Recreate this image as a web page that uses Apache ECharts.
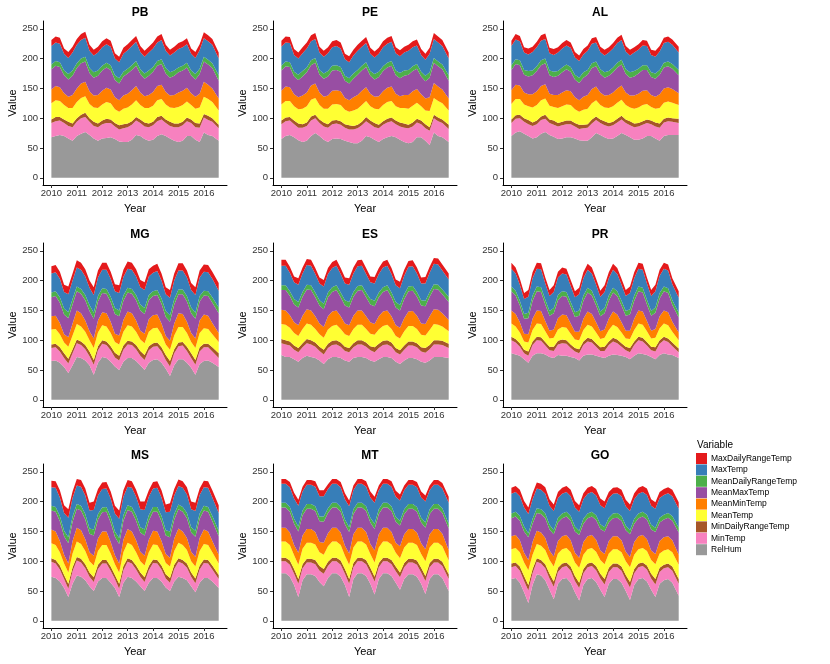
<!DOCTYPE html>
<html>
<head>
<meta charset="utf-8">
<script src="https://cdn.jsdelivr.net/npm/echarts@6/dist/echarts.min.js"></script>
<style>html,body{margin:0;padding:0;background:#fff}#main{width:830px;height:664px}</style>
</head>
<body>
<div id="main"></div>
<script>
// sample dates (bi-monthly), tick labels
var months = ['2010-01','2010-03','2010-05','2010-07','2010-09','2010-11',
  '2011-01','2011-03','2011-05','2011-07','2011-09','2011-11',
  '2012-01','2012-03','2012-05','2012-07','2012-09','2012-11',
  '2013-01','2013-03','2013-05','2013-07','2013-09','2013-11',
  '2014-01','2014-03','2014-05','2014-07','2014-09','2014-11',
  '2015-01','2015-03','2015-05','2015-07','2015-09','2015-11',
  '2016-01','2016-03','2016-05','2016-08'];
var yearTicks = [2010, 2011, 2012, 2013, 2014, 2015, 2016];
var valueTicks = [0, 50, 100, 150, 200, 250];

// legend order (top of stack first)
var variables = ['MaxDailyRangeTemp','MaxTemp','MeanDailyRangeTemp','MeanMaxTemp','MeanMinTemp','MeanTemp','MinDailyRangeTemp','MinTemp','RelHum'];
var colors = {
  MaxDailyRangeTemp:'#E41A1C', MaxTemp:'#377EB8', MeanDailyRangeTemp:'#4DAF4A', MeanMaxTemp:'#984EA3',
  MeanMinTemp:'#FF7F00', MeanTemp:'#FFFF33', MinDailyRangeTemp:'#A65628', MinTemp:'#F781BF', RelHum:'#999999'
};

var PB = {
  RelHum:             [68,70,72,70,66,62, 70,74,77,72,66,62, 66,67,68,65,61,60, 60,64,72,70,65,62, 64,70,73,70,66,62, 60,62,70,70,64,60, 76,72,70,62],
  MinTemp:            [24,25,24,22,21,23, 24,26,25,22,21,23, 24,25,24,21,20,23, 25,25,24,22,21,23, 24,25,25,22,21,23, 25,26,25,22,21,24, 25,25,24,21],
  MinDailyRangeTemp:  [6,7,6,6,7,6, 6,6,7,6,7,6, 6,7,6,6,7,7, 6,6,6,6,7,6, 6,7,6,6,7,6, 6,6,6,6,7,7, 6,7,6,6],
  MeanTemp:           [27,28,27,24,23,26, 27,28,28,24,24,26, 27,28,27,23,23,26, 27,28,28,24,24,26, 27,28,28,25,24,26, 28,28,27,24,24,27, 29,28,27,24],
  MeanMinTemp:        [23,24,23,20,19,22, 23,24,24,21,20,22, 23,24,23,20,19,22, 23,24,24,21,20,22, 23,24,24,21,20,22, 24,24,23,20,20,23, 25,24,23,20],
  MeanMaxTemp:        [34,34,34,30,29,32, 34,34,34,31,30,32, 34,34,33,29,28,32, 34,34,34,31,29,32, 34,34,35,31,30,32, 34,34,34,30,29,33, 34,34,34,30],
  MeanDailyRangeTemp: [8,8,8,8,9,9, 8,8,8,8,9,9, 8,8,8,8,9,8, 8,8,8,8,9,9, 8,8,8,9,9,9, 8,8,8,8,9,9, 8,8,8,9],
  MaxTemp:            [31,31,31,28,27,30, 31,31,32,29,28,30, 31,31,31,28,27,30, 31,32,32,29,28,30, 31,31,32,29,28,30, 31,31,31,28,27,31, 31,31,31,28],
  MaxDailyRangeTemp:  [10,10,10,9,10,10, 10,10,10,10,10,10, 10,10,10,9,9,10, 10,10,10,10,10,10, 10,10,10,10,10,10, 10,10,10,9,10,10, 10,10,10,10]
};
var PE = {
  RelHum:             [65,70,72,68,63,60, 62,70,75,70,64,60, 65,66,65,62,60,58, 58,62,70,68,64,60, 65,68,70,68,64,60, 58,60,68,68,62,55, 76,70,68,60],
  MinTemp:            [25,25,24,22,21,24, 25,26,25,22,22,24, 25,25,24,22,21,23, 25,26,25,22,21,23, 24,25,25,22,22,24, 25,26,25,22,21,24, 24,25,24,22],
  MinDailyRangeTemp:  [6,6,6,6,7,6, 6,7,6,6,7,6, 6,6,6,6,7,6, 6,6,7,6,7,6, 6,6,6,6,7,7, 6,7,6,6,7,6, 6,6,6,7],
  MeanTemp:           [27,28,27,24,24,26, 27,28,28,24,23,26, 27,27,27,24,23,26, 27,28,27,24,24,26, 27,28,28,24,24,26, 27,28,27,24,23,27, 28,28,27,24],
  MeanMinTemp:        [23,24,23,20,20,22, 23,24,24,21,20,22, 23,23,23,20,19,22, 23,24,23,21,20,22, 23,24,24,21,20,22, 23,24,23,20,20,23, 25,24,23,20],
  MeanMaxTemp:        [34,34,34,30,29,32, 34,34,35,30,30,32, 34,34,33,29,28,31, 34,34,34,30,29,32, 34,34,35,31,30,32, 34,34,34,30,29,33, 34,34,34,30],
  MeanDailyRangeTemp: [8,8,8,8,9,9, 8,8,8,8,9,9, 8,8,8,8,9,9, 8,8,8,8,9,9, 8,8,8,8,9,9, 8,8,8,8,9,9, 8,8,8,9],
  MaxTemp:            [32,32,32,28,27,30, 32,32,32,29,28,30, 31,32,31,28,27,30, 32,32,32,29,28,30, 32,32,32,29,28,30, 32,32,31,28,27,31, 32,32,31,28],
  MaxDailyRangeTemp:  [10,10,10,10,10,10, 10,10,10,10,10,10, 10,10,10,9,10,10, 10,10,10,10,10,10, 10,10,10,10,10,10, 10,10,10,10,10,10, 10,10,10,10]
};
var AL = {
  RelHum:             [70,76,78,74,70,66, 68,74,77,72,69,65, 66,68,68,66,63,62, 62,68,75,72,68,65, 66,70,75,72,68,64, 64,66,70,70,66,62, 70,72,72,72],
  MinTemp:            [22,23,22,20,20,21, 22,23,22,20,20,21, 22,22,22,20,19,21, 22,23,22,20,20,21, 22,23,23,20,20,21, 22,23,22,20,20,22, 23,23,22,20],
  MinDailyRangeTemp:  [6,6,6,6,7,6, 6,6,7,6,7,6, 6,6,6,6,7,6, 6,7,6,6,7,6, 6,6,6,6,7,6, 6,6,6,6,7,7, 6,6,6,7],
  MeanTemp:           [26,27,26,23,23,25, 26,27,27,23,23,25, 26,27,26,23,22,25, 26,27,27,24,23,25, 26,27,27,24,23,25, 26,27,26,23,23,26, 27,27,26,23],
  MeanMinTemp:        [23,24,23,20,20,22, 23,24,24,20,20,22, 23,24,23,20,19,22, 23,24,23,21,20,22, 23,24,24,21,20,22, 23,24,23,20,20,23, 24,24,23,20],
  MeanMaxTemp:        [34,35,34,30,30,32, 34,35,35,31,30,32, 34,35,33,30,29,32, 34,35,34,31,30,32, 34,35,35,31,30,32, 34,35,34,30,30,33, 35,35,34,30],
  MeanDailyRangeTemp: [8,8,8,8,9,8, 8,8,8,8,9,8, 8,8,8,8,9,9, 8,8,8,8,9,8, 8,8,8,8,9,9, 8,8,8,8,9,8, 8,8,8,9],
  MaxTemp:            [32,33,32,29,28,31, 32,33,33,29,28,31, 32,32,32,29,28,30, 32,33,32,29,28,31, 32,33,33,30,28,31, 32,33,32,29,28,31, 33,33,32,29],
  MaxDailyRangeTemp:  [9,9,9,9,10,9, 9,9,9,9,10,9, 9,9,9,9,9,9, 9,9,9,9,10,9, 9,9,9,9,10,9, 9,9,9,9,10,9, 9,9,9,10]
};
var MG = {
  RelHum:             [65,66,62,55,45,58, 72,70,66,58,42,62, 72,70,64,56,50,64, 70,70,65,58,50,62, 67,68,62,52,40,58, 68,68,62,54,42,60, 65,66,62,55],
  MinTemp:            [22,22,19,15,16,20, 23,22,19,15,17,21, 22,22,19,15,16,20, 23,22,20,16,17,21, 22,22,19,15,16,20, 22,23,20,16,17,21, 23,22,19,15],
  MinDailyRangeTemp:  [6,6,7,8,8,7, 6,6,7,8,8,7, 6,6,7,8,8,7, 6,6,7,8,8,7, 6,6,7,8,9,7, 6,6,7,8,8,7, 6,6,7,8],
  MeanTemp:           [25,25,22,18,20,23, 26,25,22,19,20,23, 25,25,22,18,19,23, 26,25,22,19,20,24, 25,25,22,18,19,23, 26,25,23,19,20,24, 26,25,22,19],
  MeanMinTemp:        [22,22,19,14,16,20, 23,22,19,15,16,20, 22,22,19,14,15,20, 23,22,19,15,16,21, 22,22,18,14,15,20, 23,22,19,15,16,21, 23,22,19,15],
  MeanMaxTemp:        [32,33,34,33,32,32, 32,33,34,34,33,32, 32,33,33,33,32,32, 32,33,34,34,33,32, 32,33,33,32,32,32, 32,33,34,33,33,32, 32,33,34,33],
  MeanDailyRangeTemp: [8,8,9,10,10,9, 8,8,9,10,10,9, 8,8,9,10,10,9, 8,8,9,10,10,9, 8,8,9,10,11,9, 8,8,9,10,10,9, 8,8,9,10],
  MaxTemp:            [32,32,31,28,30,31, 32,32,31,29,30,31, 31,32,30,28,29,31, 32,32,31,29,30,31, 31,32,30,28,29,31, 32,32,31,29,30,31, 32,32,31,28],
  MaxDailyRangeTemp:  [12,12,12,12,13,12, 12,12,12,12,13,12, 12,12,12,12,13,12, 12,12,12,12,13,12, 12,12,12,12,13,12, 12,12,12,12,13,12, 12,12,12,13]
};
var ES = {
  RelHum:             [75,72,72,68,64,70, 74,72,70,66,60,68, 72,72,70,66,64,70, 72,72,70,66,64,68, 72,72,70,64,60,66, 70,70,68,64,62,66, 72,72,72,70],
  MinTemp:            [20,21,19,16,16,18, 21,21,19,16,16,19, 20,21,19,16,16,18, 21,21,19,17,16,19, 20,21,19,16,16,18, 21,21,20,17,17,19, 21,21,20,17],
  MinDailyRangeTemp:  [7,7,7,7,7,7, 7,7,7,7,8,7, 7,7,7,7,7,7, 7,7,7,7,8,7, 7,7,7,7,7,7, 7,7,7,7,8,7, 7,7,7,7],
  MeanTemp:           [25,26,23,21,20,24, 26,26,23,21,20,24, 25,26,23,21,20,24, 26,26,23,21,21,24, 25,26,23,20,20,24, 26,26,24,21,21,25, 27,26,24,21],
  MeanMinTemp:        [24,24,21,18,18,22, 24,24,21,18,18,22, 24,24,21,18,18,22, 24,24,21,19,18,22, 24,24,21,18,18,22, 24,25,22,19,19,23, 25,25,22,19],
  MeanMaxTemp:        [33,34,32,30,30,32, 33,34,32,30,30,32, 33,34,32,30,30,32, 33,34,32,30,30,32, 33,34,32,30,29,32, 34,34,32,30,30,33, 34,34,32,30],
  MeanDailyRangeTemp: [8,8,8,9,9,8, 8,8,8,9,9,8, 8,8,8,9,9,8, 8,8,8,9,9,8, 8,8,8,9,9,8, 8,8,8,9,9,8, 8,8,8,9],
  MaxTemp:            [33,33,31,28,29,31, 33,33,31,28,29,31, 32,33,31,28,29,31, 33,33,31,28,29,31, 33,33,31,28,28,31, 33,33,31,28,29,32, 34,34,32,29],
  MaxDailyRangeTemp:  [10,10,10,10,11,10, 10,10,10,10,11,10, 10,10,10,10,11,10, 10,10,10,10,11,10, 10,10,10,10,11,10, 10,10,10,10,11,10, 10,10,10,10]
};
var PR = {
  RelHum:             [78,76,74,68,62,74, 78,78,76,72,70,75, 74,74,72,70,66,74, 76,76,74,72,70,74, 76,75,74,72,68,74, 78,77,75,72,68,75, 78,76,75,70],
  MinTemp:            [22,20,15,10,12,18, 22,21,15,11,12,18, 21,20,15,11,12,18, 22,20,15,10,12,18, 22,20,15,11,12,18, 22,21,16,11,13,19, 22,21,15,10],
  MinDailyRangeTemp:  [6,6,6,6,7,6, 6,6,6,6,7,6, 6,6,6,6,7,6, 6,6,6,6,7,6, 6,6,6,6,7,6, 6,6,6,6,7,6, 6,6,6,6],
  MeanTemp:           [22,21,18,14,15,19, 22,22,18,14,15,19, 21,21,18,14,15,19, 22,21,18,14,15,19, 22,21,18,14,15,19, 22,22,18,14,16,20, 22,22,18,14],
  MeanMinTemp:        [22,21,17,13,14,19, 22,22,17,13,14,19, 21,21,17,13,14,19, 22,21,17,13,14,19, 22,21,17,13,14,19, 22,22,17,13,15,20, 22,22,17,13],
  MeanMaxTemp:        [32,31,28,25,27,30, 32,32,28,25,27,30, 31,31,28,25,27,30, 32,31,28,25,27,30, 32,31,28,25,27,30, 32,32,28,25,27,30, 32,32,28,25],
  MeanDailyRangeTemp: [8,8,8,8,9,9, 8,8,8,8,9,9, 8,8,8,8,9,9, 8,8,8,8,9,9, 8,8,8,8,9,9, 8,8,8,8,9,9, 8,8,8,8],
  MaxTemp:            [30,29,27,25,27,29, 30,30,27,25,27,29, 30,29,27,25,27,29, 30,29,27,25,27,29, 30,29,27,25,27,29, 30,30,27,25,27,29, 30,30,27,25],
  MaxDailyRangeTemp:  [10,10,10,10,11,10, 10,10,10,10,11,10, 10,10,10,10,11,10, 10,10,10,10,11,10, 10,10,10,10,11,10, 10,10,10,10,11,10, 10,10,10,11]
};
var MS = {
  RelHum:             [74,72,66,55,40,62, 76,74,68,58,50,66, 72,72,64,55,40,64, 74,72,66,58,50,64, 72,72,66,56,50,66, 74,72,68,58,48,64, 72,72,66,55],
  MinTemp:            [25,24,20,15,14,21, 25,24,20,16,15,21, 24,24,20,15,14,21, 25,24,20,16,15,21, 25,24,20,15,14,21, 25,24,21,16,15,22, 25,24,20,15],
  MinDailyRangeTemp:  [6,6,7,7,8,7, 6,6,7,7,8,7, 6,6,7,7,8,7, 6,6,7,7,8,7, 6,6,7,7,8,7, 6,6,7,7,8,7, 6,6,7,7],
  MeanTemp:           [25,25,22,19,19,23, 26,25,22,19,20,23, 25,25,22,18,19,23, 26,25,22,19,20,23, 25,25,22,19,19,23, 26,25,23,19,20,24, 26,25,22,19],
  MeanMinTemp:        [23,23,19,15,15,21, 23,23,20,15,16,21, 23,23,19,15,15,21, 23,23,20,16,16,21, 23,23,19,15,15,21, 24,23,20,16,16,22, 24,23,19,15],
  MeanMaxTemp:        [32,33,33,31,34,32, 32,33,33,31,34,32, 32,33,33,31,33,32, 32,33,33,32,34,32, 32,33,33,31,34,32, 32,33,33,32,34,32, 32,33,33,31],
  MeanDailyRangeTemp: [8,8,9,9,10,9, 8,8,9,9,10,9, 8,8,9,9,10,9, 8,8,9,9,10,9, 8,8,9,9,10,9, 8,8,9,9,10,9, 8,8,9,9],
  MaxTemp:            [31,32,31,30,33,31, 31,32,31,30,33,31, 31,31,31,30,32,31, 31,32,31,30,33,31, 31,32,31,30,33,31, 31,32,31,30,33,31, 31,32,31,30],
  MaxDailyRangeTemp:  [11,11,12,13,14,11, 11,11,12,13,14,11, 11,11,12,13,14,11, 11,11,12,13,14,11, 11,11,12,13,14,11, 11,11,12,13,14,11, 11,11,12,13]
};
var MT = {
  RelHum:             [80,80,74,60,40,68, 78,78,75,65,58,72, 80,80,74,60,40,70, 80,80,75,62,44,70, 80,80,75,64,52,70, 78,78,74,62,45,70, 78,78,72,50],
  MinTemp:            [20,20,20,19,22,20, 20,20,20,19,21,20, 20,20,20,19,22,20, 20,20,20,19,22,20, 20,20,20,19,21,20, 20,20,20,19,22,20, 20,20,20,20],
  MinDailyRangeTemp:  [6,6,7,8,8,7, 6,6,7,8,8,7, 6,6,7,8,8,7, 6,6,7,8,8,7, 6,6,7,8,8,7, 6,6,7,8,8,7, 6,6,7,8],
  MeanTemp:           [27,27,26,23,24,26, 27,27,26,23,24,26, 27,27,26,22,24,26, 27,27,26,23,24,26, 27,27,26,23,24,26, 27,27,26,23,25,26, 27,27,26,23],
  MeanMinTemp:        [23,23,21,17,20,22, 23,23,21,17,20,22, 23,23,21,17,19,22, 23,23,21,17,20,22, 23,23,21,17,20,22, 23,23,21,18,20,22, 23,23,21,18],
  MeanMaxTemp:        [34,34,35,36,36,34, 34,34,35,35,35,34, 34,34,35,36,36,34, 34,34,35,36,36,34, 34,34,35,35,35,34, 34,34,35,35,36,34, 34,34,35,36],
  MeanDailyRangeTemp: [8,8,8,8,8,8, 8,8,8,8,9,8, 8,8,8,8,8,8, 8,8,8,8,9,8, 8,8,8,8,8,8, 8,8,8,8,9,8, 8,8,8,8],
  MaxTemp:            [32,32,33,34,35,32, 32,32,33,34,34,32, 32,32,33,34,35,32, 32,32,33,34,35,32, 32,32,33,34,34,32, 32,32,33,34,35,32, 32,32,33,35],
  MaxDailyRangeTemp:  [8,8,9,10,10,8, 8,8,9,10,10,8, 8,8,9,10,10,8, 8,8,9,10,10,8, 8,8,9,10,10,8, 8,8,9,10,10,8, 8,8,9,10]
};
var GO = {
  RelHum:             [70,72,64,48,30,60, 78,76,68,52,36,62, 70,72,64,48,34,60, 70,72,65,52,40,62, 70,70,64,50,35,60, 70,72,66,52,40,62, 68,70,64,42],
  MinTemp:            [20,20,20,19,21,20, 21,20,20,19,21,20, 20,20,20,19,21,20, 20,20,20,19,21,20, 20,20,20,19,21,20, 20,20,20,19,21,20, 20,20,20,20],
  MinDailyRangeTemp:  [6,6,7,8,9,7, 6,6,7,8,9,7, 6,6,7,8,9,7, 6,6,7,8,9,7, 6,6,7,8,9,7, 6,6,7,8,9,7, 6,6,7,8],
  MeanTemp:           [24,24,24,23,25,24, 24,24,24,23,25,24, 24,24,24,23,25,24, 24,24,24,23,25,24, 24,24,24,23,25,24, 24,24,24,23,25,24, 24,24,24,24],
  MeanMinTemp:        [22,22,20,16,17,21, 22,22,20,16,17,21, 22,22,20,16,17,21, 22,22,20,16,17,21, 22,22,20,16,17,21, 22,22,20,16,17,21, 22,22,20,17],
  MeanMaxTemp:        [30,31,33,36,38,31, 30,31,33,35,37,31, 30,31,33,36,38,31, 30,31,33,36,38,31, 30,31,33,36,38,31, 30,31,33,35,37,31, 30,31,33,37],
  MeanDailyRangeTemp: [8,8,8,8,7,8, 8,8,8,8,7,8, 8,8,8,8,7,8, 8,8,8,8,7,8, 8,8,8,8,7,8, 8,8,8,8,7,8, 8,8,8,8],
  MaxTemp:            [33,33,33,32,32,33, 33,33,33,32,32,33, 33,33,33,32,32,33, 33,33,33,32,32,33, 33,33,33,32,32,33, 33,33,33,32,32,33, 33,33,33,32],
  MaxDailyRangeTemp:  [10,10,11,11,11,10, 10,10,11,11,11,10, 10,10,11,11,11,10, 10,10,11,11,11,10, 10,10,11,11,11,10, 10,10,11,11,11,10, 10,10,11,11]
};

var regions = [['PB', PB], ['PE', PE], ['AL', AL], ['MG', MG], ['ES', ES], ['PR', PR], ['MS', MS], ['MT', MT], ['GO', GO]];

var myChart = echarts.init(document.getElementById('main'));

// decimal year for each sample
var xs = months.map(function (m) {
  var p = m.split('-');
  return Number(p[0]) + (Number(p[1]) - 1) / 12;
});

var colLeft = [43, 273, 503];
var rowTop = [21, 243, 464];
var plotW = 184, plotH = 164;
var axisColor = '#000';
var labelColor = '#333';
var stackOrder = variables.slice().reverse(); // bottom first

var grids = [], xAxes = [], yAxes = [], titles = [], series = [];

regions.forEach(function (r, i) {
  var col = i % 3, row = Math.floor(i / 3);
  grids.push({ left: colLeft[col], top: rowTop[row], width: plotW, height: plotH });
  titles.push({
    text: r[0], left: colLeft[col] + plotW / 2, top: rowTop[row] - 19, textAlign: 'center',
    textStyle: { fontSize: 12, fontWeight: 'bold', color: '#000' }
  });
  xAxes.push({
    type: 'value', gridIndex: i, min: 2009.67, max: 2016.91,
    name: 'Year', nameLocation: 'middle', nameGap: 18,
    nameTextStyle: { fontSize: 11, color: '#000' },
    axisLine: { show: true, onZero: false, lineStyle: { color: axisColor, width: 1 } },
    axisTick: { show: true, length: 3, customValues: yearTicks, lineStyle: { color: labelColor } },
    axisLabel: { customValues: yearTicks, fontSize: 9.5, color: labelColor, margin: 3.5, formatter: function (v) { return String(v); } },
    splitLine: { show: false }
  });
  yAxes.push({
    type: 'value', gridIndex: i, min: -12, max: 263,
    name: 'Value', nameLocation: 'middle', nameGap: 24, nameRotate: 90,
    nameTextStyle: { fontSize: 11, color: '#000' },
    axisLine: { show: true, onZero: false, lineStyle: { color: axisColor, width: 1 } },
    axisTick: { show: true, length: 3, customValues: valueTicks, lineStyle: { color: labelColor } },
    axisLabel: { customValues: valueTicks, fontSize: 9.5, color: labelColor, margin: 5 },
    splitLine: { show: false }
  });
  stackOrder.forEach(function (v) {
    series.push({
      name: v, type: 'line', xAxisIndex: i, yAxisIndex: i, stack: r[0],
      symbol: 'none', showSymbol: false,
      lineStyle: { width: 0 },
      itemStyle: { color: colors[v] },
      areaStyle: { color: colors[v], opacity: 1 },
      emphasis: { disabled: true },
      // value first so that the stack is computed on y, not on the value-type x
      encode: { x: 1, y: 0 },
      data: r[1][v].map(function (val, k) { return [val, xs[k]]; })
    });
  });
});

var option = {
  animation: false,
  backgroundColor: '#fff',
  textStyle: { fontFamily: 'Liberation Sans, Arial, sans-serif' },
  title: titles,
  grid: grids,
  xAxis: xAxes,
  yAxis: yAxes,
  legend: {
    data: variables, orient: 'vertical', left: 696, top: 453, padding: 0,
    itemWidth: 11, itemHeight: 11, itemGap: 0.4, icon: 'rect',
    textStyle: { fontSize: 8.5, color: '#000', padding: [0, 0, 0, -1] },
    selectedMode: false
  },
  graphic: [{
    type: 'text', left: 697, top: 440,
    style: { text: 'Variable', fontSize: 10, fill: '#000', fontFamily: 'Liberation Sans, Arial, sans-serif' }
  }],
  series: series
};

myChart.setOption(option);
</script>
</body>
</html>
